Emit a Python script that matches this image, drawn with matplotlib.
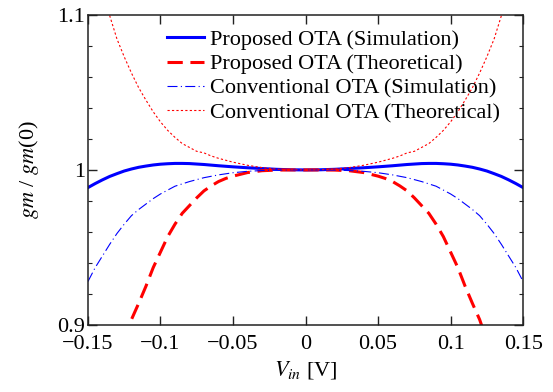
import matplotlib
matplotlib.use('Agg')
import matplotlib.pyplot as plt
from matplotlib.ticker import MultipleLocator, FuncFormatter

plt.rcParams['font.family'] = 'serif'
plt.rcParams['font.serif'] = ['Liberation Serif', 'DejaVu Serif']
plt.rcParams['mathtext.fontset'] = 'stix'

# Proposed OTA (Simulation)
x_ps = [-0.15, -0.145, -0.14, -0.135, -0.13, -0.125, -0.12, -0.115, -0.11, -0.105,
        -0.10, -0.095, -0.09, -0.085, -0.08, -0.075, -0.07, -0.06, -0.05, -0.04,
        -0.03, -0.02, -0.01, 0.0, 0.01, 0.02, 0.03, 0.04, 0.05, 0.06, 0.07, 0.075,
        0.08, 0.085, 0.09, 0.095, 0.10, 0.105, 0.11, 0.115, 0.12, 0.125, 0.13,
        0.135, 0.14, 0.145, 0.15]
y_ps = [0.9886, 0.9912, 0.9936, 0.9958, 0.9976, 0.9993, 1.0006, 1.0017, 1.0025, 1.0032,
        1.0037, 1.0040, 1.0042, 1.0042, 1.0041, 1.0038, 1.0035, 1.0027, 1.0020, 1.0014,
        1.0009, 1.0004, 1.0001, 1.0, 1.0001, 1.0004, 1.0009, 1.0014, 1.0020, 1.0027,
        1.0035, 1.0038, 1.0041, 1.0042, 1.0042, 1.0040, 1.0037, 1.0032, 1.0025,
        1.0017, 1.0006, 0.9993, 0.9976, 0.9958, 0.9936, 0.9912, 0.9886]

# Proposed OTA (Theoretical)
x_pt = [-0.125, -0.12, -0.115, -0.11, -0.105, -0.10, -0.095, -0.09, -0.085, -0.08,
        -0.075, -0.07, -0.065, -0.06, -0.055, -0.05, -0.04, -0.03, -0.02, -0.01, 0.0,
        0.01, 0.02, 0.03, 0.04, 0.05, 0.055, 0.06, 0.065, 0.07, 0.075, 0.08, 0.085,
        0.09, 0.095, 0.10, 0.105, 0.11, 0.115, 0.12, 0.125]
y_pt = [0.890, 0.9035, 0.914, 0.925, 0.937, 0.947, 0.957, 0.965, 0.972, 0.977,
        0.982, 0.9865, 0.9897, 0.9925, 0.9945, 0.996, 0.9983, 0.9995, 0.9999, 1.0, 1.0,
        1.0, 0.9999, 0.9995, 0.9983, 0.996, 0.9945, 0.9925, 0.9897, 0.9865, 0.982,
        0.977, 0.972, 0.965, 0.957, 0.947, 0.937, 0.925, 0.914, 0.9035, 0.890]

# Conventional OTA (Simulation)
x_cs = [-0.15, -0.145, -0.14, -0.135, -0.13, -0.125, -0.12, -0.115, -0.11, -0.105,
        -0.10, -0.09, -0.08, -0.07, -0.06, -0.05, -0.04, -0.03, -0.02, 0.0,
        0.02, 0.03, 0.04, 0.05, 0.06, 0.07, 0.08, 0.09, 0.10, 0.105, 0.11, 0.115,
        0.12, 0.125, 0.13, 0.135, 0.14, 0.145, 0.15]
y_cs = [0.928, 0.937, 0.9445, 0.952, 0.959, 0.965, 0.9705, 0.9745, 0.978, 0.9815,
        0.9845, 0.9895, 0.9925, 0.995, 0.9968, 0.9982, 0.9991, 0.9996, 0.9999, 1.0,
        0.9999, 0.9996, 0.9991, 0.9982, 0.9968, 0.995, 0.9925, 0.9895, 0.9845, 0.9815,
        0.978, 0.9745, 0.9705, 0.965, 0.959, 0.952, 0.9445, 0.937, 0.928]

# Conventional OTA (Theoretical)
x_ct = [-0.137, -0.135, -0.13, -0.125, -0.12, -0.115, -0.11, -0.105, -0.10, -0.095,
        -0.09, -0.085, -0.08, -0.075, -0.07, -0.065, -0.06, -0.05, -0.04, -0.03,
        -0.02, -0.01, 0.0, 0.01, 0.02, 0.03, 0.04, 0.05, 0.06, 0.065, 0.07, 0.075,
        0.08, 0.085, 0.09, 0.095, 0.10, 0.105, 0.11, 0.115, 0.12, 0.125, 0.13,
        0.135, 0.137]
y_ct = [1.108, 1.0995, 1.0845, 1.073, 1.0625, 1.053, 1.045, 1.0375, 1.031, 1.0255,
        1.021, 1.017, 1.0145, 1.012, 1.011, 1.009, 1.0075, 1.005, 1.003, 1.0015,
        1.0005, 1.0001, 1.0, 1.0001, 1.0005, 1.0015, 1.003, 1.005, 1.0075, 1.009,
        1.011, 1.012, 1.0145, 1.017, 1.021, 1.0255, 1.031, 1.0375, 1.045, 1.053,
        1.0625, 1.073, 1.0845, 1.0995, 1.108]

fig = plt.figure(figsize=(5.53, 3.92), dpi=100)
ax = fig.add_axes([0.159, 0.171, 0.787, 0.791])

ax.plot(x_ps, y_ps, color='#0000ff', lw=2.2, label='Proposed OTA (Simulation)')
ax.plot(x_pt, y_pt, color='#ff0000', lw=2.2, dashes=(5, 2.5), label='Proposed OTA (Theoretical)')
ax.plot(x_cs, y_cs, color='#0000ff', lw=0.8, dashes=(9, 3, 1, 3), label='Conventional OTA (Simulation)')
ax.plot(x_ct, y_ct, color='#ff0000', lw=0.8, dashes=(2, 2), label='Conventional OTA (Theoretical)')

ax.set_xlim(-0.15, 0.15)
ax.set_ylim(0.9, 1.1)
ax.xaxis.set_major_locator(MultipleLocator(0.05))
ax.yaxis.set_major_locator(MultipleLocator(0.1))
ax.yaxis.set_minor_locator(MultipleLocator(0.02))

def fmt(v, pos):
    v = round(v, 4)
    if v == 0:
        return '0'
    return ('%g' % v).replace('-', '\u2212')

ax.xaxis.set_major_formatter(FuncFormatter(fmt))
ax.yaxis.set_major_formatter(FuncFormatter(fmt))
ax.tick_params(which='both', direction='in', top=True, right=True, labelsize=16, color='#222222')
ax.tick_params(which='major', length=6.5, width=1)
ax.tick_params(which='minor', length=3, width=0.8)
ax.tick_params(axis='x', pad=7)
ax.tick_params(axis='y', pad=2)
for s in ax.spines.values():
    s.set_linewidth(1.1)
    s.set_color('#222222')

ax.set_xlabel(r'$V_{in}$ [V]', fontsize=16, labelpad=4)
ax.set_ylabel(r'$gm$ / $gm$(0)', fontsize=16, labelpad=12)

ax.legend(loc='upper left', bbox_to_anchor=(0.182, 0.953), frameon=False, fontsize=16,
          handlelength=1.65, handletextpad=0.28, labelspacing=0.17,
          borderaxespad=0, borderpad=0)

fig.savefig('out.png', dpi=100)
